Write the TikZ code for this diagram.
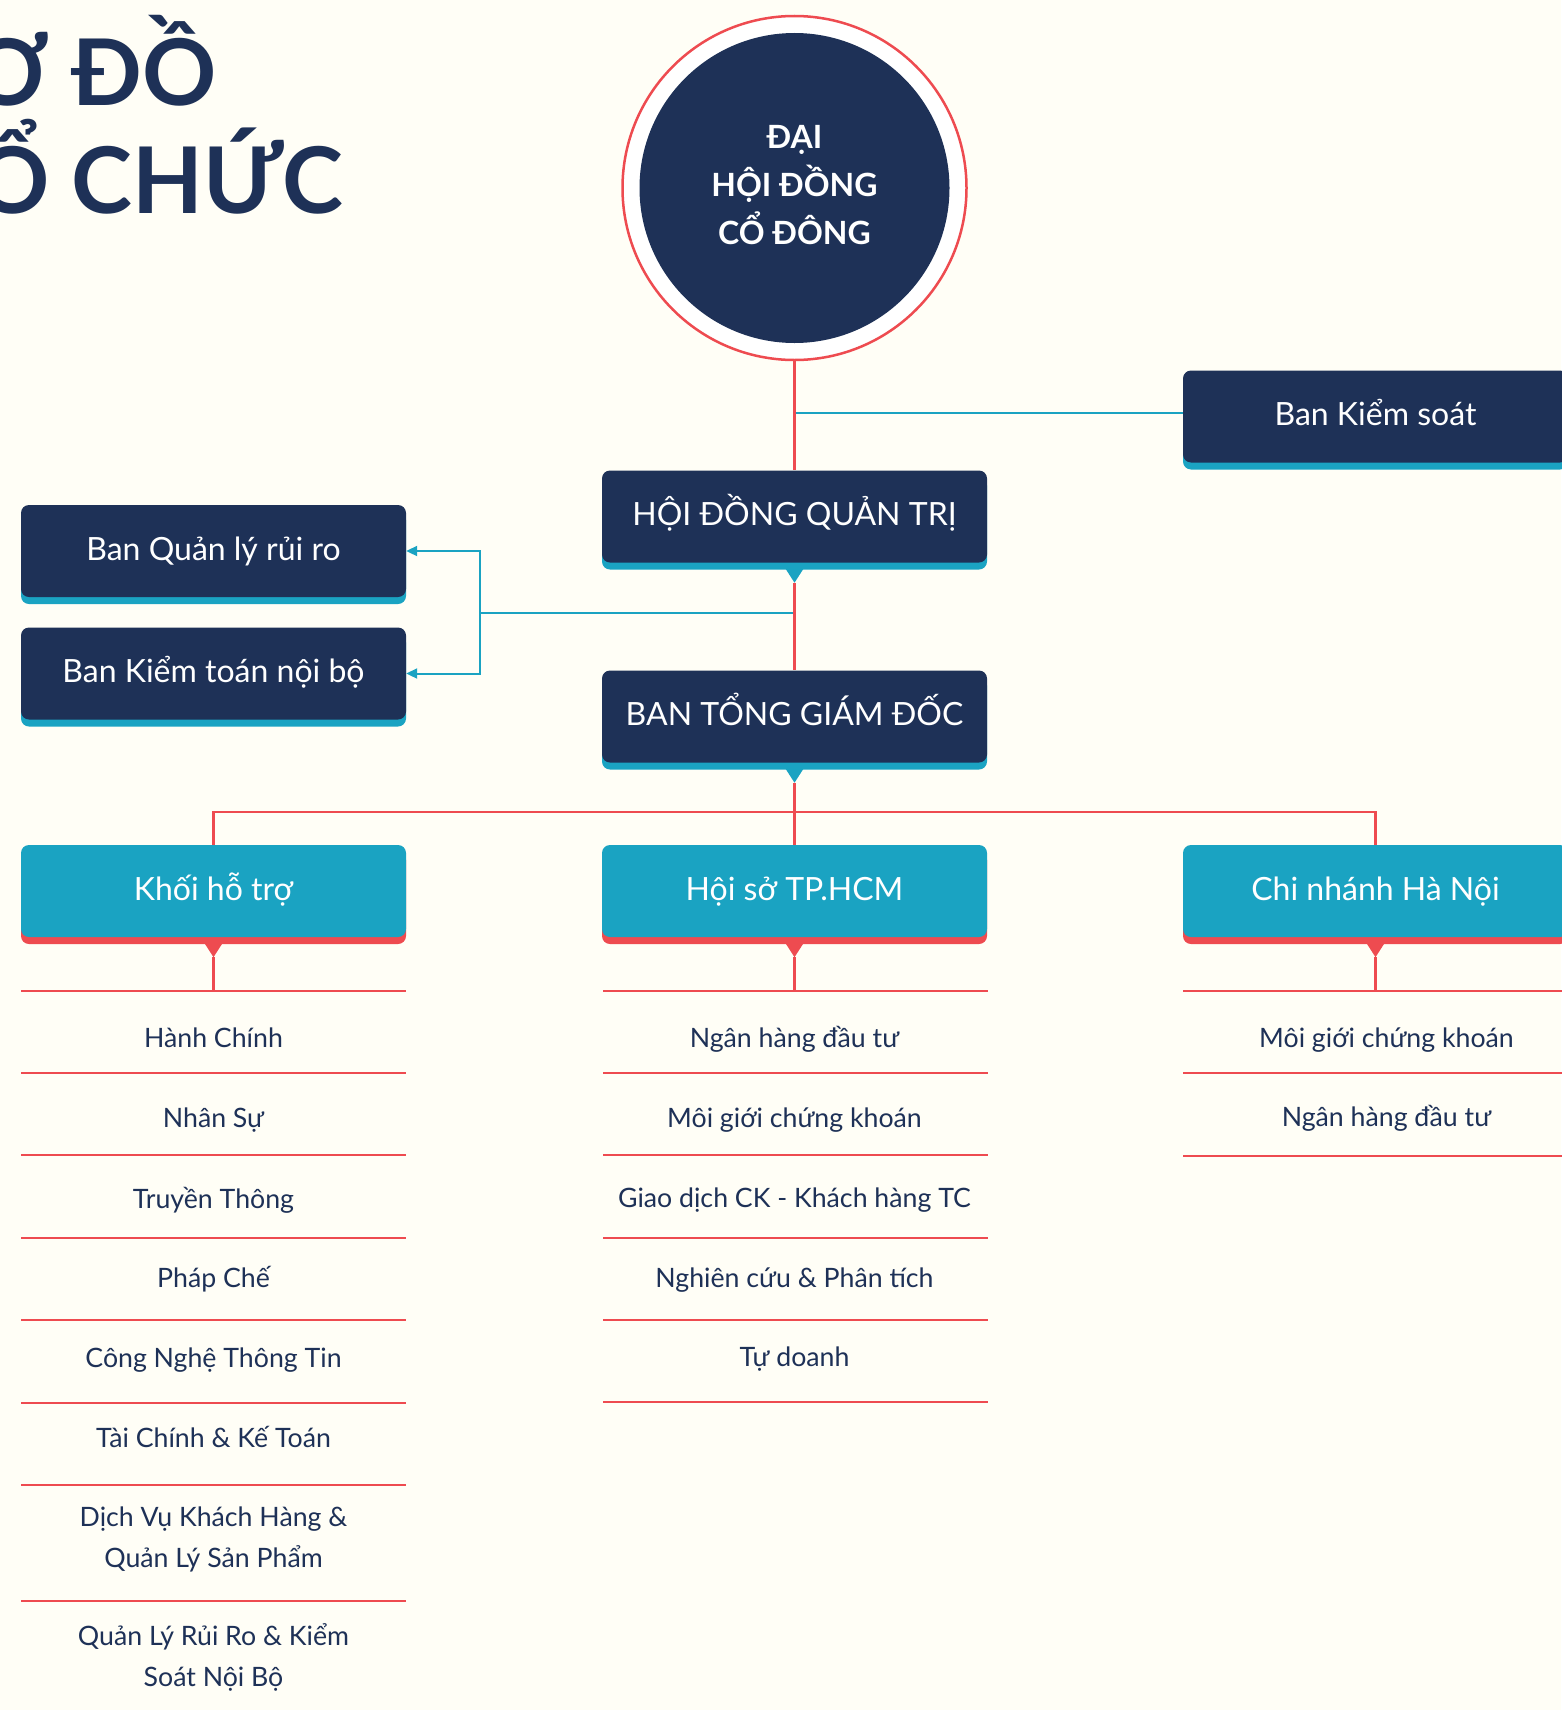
\documentclass[tikz,border=0pt]{standalone}
\usepackage{fontspec}
\setmainfont{Lato}
\usetikzlibrary{arrows.meta,calc,shadows}
\definecolor{cNavy}{HTML}{1E3157}
\definecolor{cTeal}{HTML}{1AA3C2}
\definecolor{cRed}{HTML}{EE4B50}
\definecolor{cBg}{HTML}{FFFEF6}
\newcommand\boxpointer[2]{%
  \fill[#2] ($(#1.south)+(-9,-6)$) -- ($(#1.south)+(9,-6)$) -- ($(#1.south)+(0,-20)$) -- cycle;
  \coordinate (#1-tip) at ($(#1.south)+(0,-20)$);}
\tikzset{
  boxbase/.style={rectangle, rounded corners=8pt, minimum width=385pt, minimum height=92pt,
    inner sep=0pt, text=white, font=\fontsize{32}{38}\selectfont, text height=23pt, text depth=5pt},
  navybox/.style={boxbase, fill=cNavy,
    drop shadow={shadow xshift=0pt, shadow yshift=-7pt, opacity=1, fill=cTeal}},
  tealbox/.style={boxbase, fill=cTeal,
    drop shadow={shadow xshift=0pt, shadow yshift=-7pt, opacity=1, fill=cRed}},
  redline/.style={draw=cRed, line width=2.5pt},
  tealline/.style={draw=cTeal, line width=2pt},
  sepline/.style={draw=cRed, line width=2.5pt},
  item/.style={anchor=base, text=cNavy, font=\fontsize{26.7}{40.5}\selectfont, align=center, inner sep=0pt},
  titletext/.style={anchor=base east, inner sep=0pt, text=cNavy, font=\bfseries\fontsize{92}{108}\selectfont},
  arrowtip/.style={-{Triangle[length=11pt,width=10pt]}}
}
\begin{document}
\begin{tikzpicture}[x=1pt,y=1pt]
\useasboundingbox (0,0) rectangle (1561,-1710);
\fill[cBg] (0,0) rectangle (1561,-1710);

% title
\node[titletext] (t1) at (217,-105) {SƠ ĐỒ};
\node[titletext] (t2) at (343,-213) {TỔ CHỨC};

% top circle
\node[circle, minimum size=344pt, draw=cRed, line width=2.5pt, fill=white, inner sep=0pt,
  text=white, font=\bfseries\fontsize{32}{48}\selectfont, align=center, text depth=6pt,
  path picture={\fill[cNavy] (path picture bounding box.center) circle (155);}]
  (dhd) at (794.5,-188) {ĐẠI\\HỘI ĐỒNG\\CỔ ĐÔNG};

% boxes
\node[navybox] (bks) at (1375.5,-416.5) {Ban Kiểm soát};
\node[navybox] (hdqt) at (794.5,-516.5) {HỘI ĐỒNG QUẢN TRỊ};
\node[navybox] (btgd) at (794.5,-716.5) {BAN TỔNG GIÁM ĐỐC};
\node[navybox] (bqlrr) at (213.5,-551) {Ban Quản lý rủi ro};
\node[navybox] (bktnb) at (213.5,-673.5) {Ban Kiểm toán nội bộ};
\node[tealbox] (khoi) at (213.5,-891) {Khối hỗ trợ};
\node[tealbox] (hoiso) at (794.5,-891) {Hội sở TP.HCM};
\node[tealbox] (cnhn) at (1375.5,-891) {Chi nhánh Hà Nội};

\boxpointer{hdqt}{cTeal}
\boxpointer{btgd}{cTeal}
\boxpointer{khoi}{cRed}
\boxpointer{hoiso}{cRed}
\boxpointer{cnhn}{cRed}

% teal connectors
\coordinate (tj1) at (794.5,-413);
\coordinate (tj2) at (794.5,-613);
\coordinate (tbus) at (480,-613);
\draw[tealline] (tj1) -- (tj1 -| bks.west);
\draw[tealline] (tj2) -- (tbus);
\draw[tealline, arrowtip] (tbus) |- (bqlrr.east);
\draw[tealline, arrowtip] (tbus) |- (bktnb.east);

% red connectors
\coordinate (rbus) at (794.5,-812);
\draw[redline] (dhd.south) -- (hdqt.north);
\draw[redline] (hdqt-tip) -- (btgd.north);
\draw[redline] (btgd-tip) -- (hoiso.north);
\draw[redline] (khoi.north) |- (rbus) -| (cnhn.north);
\draw[redline] (khoi-tip) -- ++(0,-34);
\draw[redline] (hoiso-tip) -- ++(0,-34);
\draw[redline] (cnhn-tip) -- ++(0,-34);

% separators
\foreach \y in {991,1073,1155,1238,1320,1403,1485,1601}
  \draw[sepline] (21,-\y) -- (406,-\y);
\foreach \y in {991,1073,1155,1238,1320,1402}
  \draw[sepline] (603,-\y) -- (988,-\y);
\foreach \y in {991,1073,1156}
  \draw[sepline] (1183,-\y) -- (1568,-\y);

% left list
\node[item] (l1) at (213.5,-1047) {Hành Chính};
\node[item] (l2) at (213.5,-1127) {Nhân Sự};
\node[item] (l3) at (213.5,-1208) {Truyền Thông};
\node[item] (l4) at (213.5,-1287) {Pháp Chế};
\node[item] (l5) at (213.5,-1367) {Công Nghệ Thông Tin};
\node[item] (l6) at (213.5,-1447) {Tài Chính \& Kế Toán};
\node[item] (l7) at (213.5,-1567) {Dịch Vụ Khách Hàng \&\\Quản Lý Sản Phẩm};
\node[item] (l8) at (213.5,-1686) {Quản Lý Rủi Ro \& Kiểm\\Soát Nội Bộ};

% middle list
\node[item] (m1) at (794.5,-1047) {Ngân hàng đầu tư};
\node[item] (m2) at (794.5,-1127) {Môi giới chứng khoán};
\node[item] (m3) at (794.5,-1207) {Giao dịch CK - Khách hàng TC};
\node[item] (m4) at (794.5,-1287) {Nghiên cứu \& Phân tích};
\node[item] (m5) at (794.5,-1366) {Tự doanh};

% right list
\node[item] (r1) at (1386.5,-1047) {Môi giới chứng khoán};
\node[item] (r2) at (1386.5,-1126) {Ngân hàng đầu tư};
\end{tikzpicture}
\end{document}
